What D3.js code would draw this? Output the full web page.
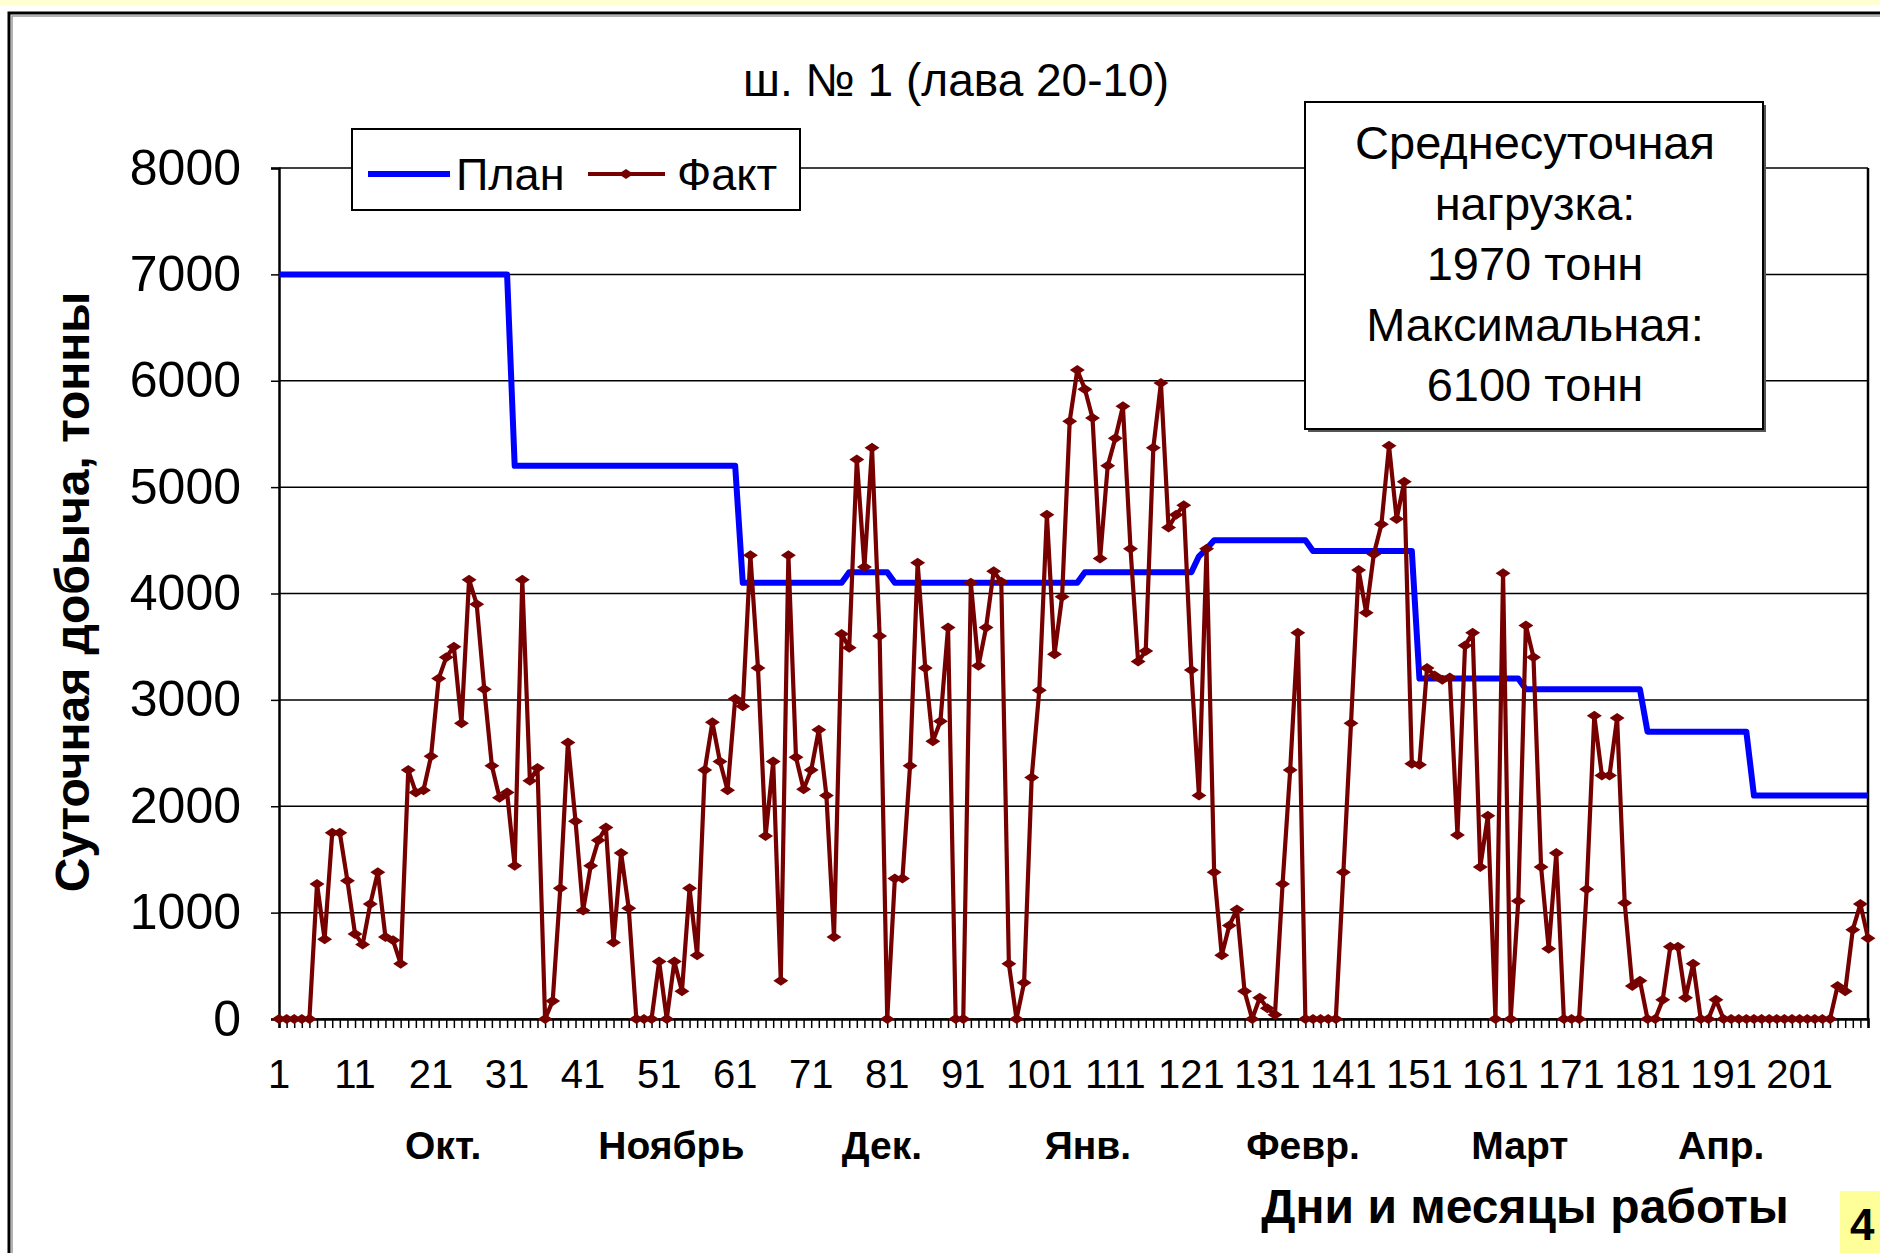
<!DOCTYPE html>
<html>
<head>
<meta charset="utf-8">
<script src="https://cdn.jsdelivr.net/npm/d3@7"></script>
<style>
  html, body { margin: 0; padding: 0; background: #fff; }
  svg { display: block; font-family: "Liberation Sans", Arial, sans-serif; }
</style>
</head>
<body>
<svg id="chart" width="1880" height="1253"></svg>
<script>
// daily output, tonnes (days 1..210)
const fact = [
  0, 0, 0, 0, 0, 1270, 750, 1750, 1750, 1300,
  800, 700, 1080, 1380, 770, 740, 520, 2340, 2130, 2150,
  2470, 3200, 3400, 3500, 2780, 4130, 3900, 3100, 2380, 2080,
  2130, 1440, 4130, 2240, 2360, 0, 170, 1230, 2600, 1860,
  1020, 1440, 1680, 1800, 720, 1560, 1040, 0, 0, 0,
  540, 0, 540, 260, 1230, 600, 2340, 2790, 2420, 2150,
  3010, 2940, 4360, 3300, 1720, 2420, 360, 4360, 2460, 2160,
  2340, 2720, 2100, 770, 3620, 3490, 5260, 4250, 5370, 3600,
  0, 1320, 1320, 2380, 4290, 3300, 2610, 2800, 3680, 0,
  0, 4100, 3320, 3680, 4210, 4110, 520, 0, 340, 2270,
  3090, 4740, 3430, 3970, 5620, 6100, 5920, 5650, 4330, 5200,
  5460, 5760, 4420, 3360, 3460, 5370, 5980, 4620, 4740, 4830,
  3280, 2100, 4420, 1380, 600, 880, 1030, 260, 0, 200,
  100, 40, 1270, 2340, 3630, 0, 0, 0, 0, 0,
  1380, 2780, 4220, 3820, 4370, 4650, 5390, 4700, 5050, 2400,
  2390, 3300, 3230, 3190, 3210, 1730, 3510, 3630, 1430, 1910,
  0, 4190, 0, 1110, 3700, 3400, 1430, 660, 1560, 0,
  0, 0, 1220, 2850, 2290, 2290, 2830, 1090, 310, 360,
  0, 0, 180, 680, 680, 200, 520, 0, 0, 180,
  0, 0, 0, 0, 0, 0, 0, 0, 0, 0,
  0, 0, 0, 0, 0, 310, 260, 840, 1080, 760
];

// plan: level valid from the given day onwards
const planStart = [1, 32, 62, 76, 82, 107, 122, 123, 124, 137, 151, 165, 181, 195];
const planLevel = [7000, 5200, 4100, 4200, 4100, 4200, 4350, 4420, 4500, 4400, 3200, 3100, 2700, 2100];

const yTicks = [0, 1000, 2000, 3000, 4000, 5000, 6000, 7000, 8000];
const xTickDays = [1, 11, 21, 31, 41, 51, 61, 71, 81, 91, 101, 111, 121, 131, 141, 151, 161, 171, 181, 191, 201];

const months = ["Окт.", "Ноябрь", "Дек.", "Янв.", "Февр.", "Март", "Апр."];
const monthDay = [22.6, 52.6, 80.3, 107.4, 135.7, 164.2, 190.7];

const title = "ш. № 1 (лава 20-10)";
const yTitle = "Суточная добыча, тонны";
const xTitle = "Дни и месяцы работы";
const noteLines = ["Среднесуточная", "нагрузка:", "1970 тонн", "Максимальная:", "6100 тонн"];

const days = fact.map((d, i) => i + 1);
const plan = days.map(day => {
  let v = planLevel[0];
  planStart.forEach((s, i) => { if (day >= s) v = planLevel[i]; });
  return v;
});

const svg = d3.select("#chart");
const plotL = 279, plotR = 1868, plotT = 168, plotB = 1019;
const FACT_COLOR = "#760000";

const x = d3.scaleLinear().domain([1, fact.length]).range([plotL, plotR]);
const y = d3.scaleLinear().domain([0, 8000]).range([plotB, plotT]);

// page frame
svg.append("rect").attr("x", 0).attr("y", 0).attr("width", 1880).attr("height", 5).attr("fill", "#ffffd2");
svg.append("rect").attr("x", 9).attr("y", 13).attr("width", 1890).attr("height", 1260)
  .attr("fill", "#fff").attr("stroke", "#000").attr("stroke-width", 3);
svg.append("path").attr("d", "M12,1253V16H1880").attr("fill", "none").attr("stroke", "#999").attr("stroke-width", 1.5);

// grid lines
svg.append("g").selectAll("line").data(yTicks).enter().append("line")
  .attr("x1", plotL).attr("x2", plotR)
  .attr("y1", d => y(d)).attr("y2", d => y(d))
  .attr("stroke", "#000").attr("stroke-width", 1.5);

// y axis
const yAxis = svg.append("g")
  .attr("transform", "translate(" + plotL + ",0)")
  .call(d3.axisLeft(y).tickValues(yTicks).tickFormat(d3.format("d")).tickSize(8).tickPadding(30));
yAxis.select(".domain").attr("stroke-width", 2.5);
yAxis.selectAll(".tick line").attr("stroke-width", 1.5);
yAxis.selectAll("text").attr("font-size", 50).attr("fill", "#000");

// x axis: a tick on every day, labels every 10 days
const xAxis = svg.append("g")
  .attr("transform", "translate(0," + plotB + ")")
  .call(d3.axisBottom(x).tickValues(days).tickSize(9).tickFormat(""));
xAxis.select(".domain").attr("stroke-width", 2.5);
xAxis.selectAll(".tick line").attr("stroke-width", 1.5);

svg.append("g").selectAll("text").data(xTickDays).enter().append("text")
  .attr("x", d => x(d)).attr("y", 1088)
  .attr("text-anchor", "middle").attr("font-size", 40)
  .text(d => d);

// right border of plot area
svg.append("line").attr("x1", plotR).attr("x2", plotR).attr("y1", plotT).attr("y2", plotB)
  .attr("stroke", "#000").attr("stroke-width", 2.5);

// month labels
svg.append("g").selectAll("text").data(months).enter().append("text")
  .attr("x", (d, i) => x(monthDay[i])).attr("y", 1159)
  .attr("text-anchor", "middle").attr("font-size", 39).attr("font-weight", "bold")
  .text(d => d);

// plan line
const line = d3.line().x((d, i) => x(days[i])).y(d => y(d));
svg.append("path").datum(plan)
  .attr("d", line).attr("fill", "none")
  .attr("stroke", "#0000ff").attr("stroke-width", 6).attr("stroke-linejoin", "round");

// fact line + diamond markers
svg.append("path").datum(fact)
  .attr("d", line).attr("fill", "none")
  .attr("stroke", FACT_COLOR).attr("stroke-width", 4.2).attr("stroke-linejoin", "round");

const diamond = "M-7.5,0L0,-5L7.5,0L0,5Z";
svg.append("g").selectAll("path").data(fact).enter().append("path")
  .attr("d", diamond)
  .attr("transform", (d, i) => "translate(" + x(days[i]) + "," + y(d) + ")")
  .attr("fill", FACT_COLOR);

// titles
svg.append("text").attr("x", 956).attr("y", 96).attr("text-anchor", "middle")
  .attr("font-size", 46).text(title);

svg.append("text").attr("transform", "translate(89,592) rotate(-90)")
  .attr("text-anchor", "middle").attr("font-size", 48).attr("font-weight", "bold")
  .text(yTitle);

svg.append("text").attr("x", 1525).attr("y", 1223).attr("text-anchor", "middle")
  .attr("font-size", 48).attr("font-weight", "bold").text(xTitle);

// legend
const lg = svg.append("g");
lg.append("rect").attr("x", 352).attr("y", 129).attr("width", 448).attr("height", 81)
  .attr("fill", "#fff").attr("stroke", "#000").attr("stroke-width", 2);
lg.append("line").attr("x1", 368).attr("x2", 450).attr("y1", 174).attr("y2", 174)
  .attr("stroke", "#0000ff").attr("stroke-width", 6);
lg.append("text").attr("x", 456).attr("y", 190).attr("font-size", 45).text("План");
lg.append("line").attr("x1", 588).attr("x2", 665).attr("y1", 174).attr("y2", 174)
  .attr("stroke", FACT_COLOR).attr("stroke-width", 4.2);
lg.append("path").attr("d", diamond).attr("transform", "translate(626,174)").attr("fill", FACT_COLOR);
lg.append("text").attr("x", 677).attr("y", 190).attr("font-size", 45).text("Факт");

// annotation box
const nb = svg.append("g");
nb.append("rect").attr("x", 1308).attr("y", 105).attr("width", 458).attr("height", 327).attr("fill", "#555");
nb.append("rect").attr("x", 1305).attr("y", 102).attr("width", 458).attr("height", 327)
  .attr("fill", "#fff").attr("stroke", "#000").attr("stroke-width", 2);
nb.selectAll("text").data(noteLines).enter().append("text")
  .attr("x", 1535).attr("y", (d, i) => 159 + i * 60.5)
  .attr("text-anchor", "middle").attr("font-size", 47)
  .text(d => d);

// page number
svg.append("rect").attr("x", 1840).attr("y", 1191).attr("width", 40).attr("height", 62).attr("fill", "#ffff99");
svg.append("text").attr("x", 1850).attr("y", 1240).attr("font-size", 44).attr("font-weight", "bold").text("4");
</script>
</body>
</html>
